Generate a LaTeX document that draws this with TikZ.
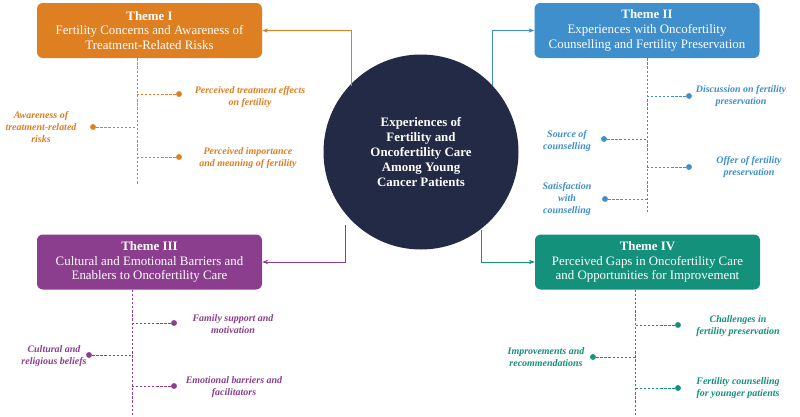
\documentclass[tikz,border=0pt]{standalone}
\usepackage{fontspec}
\setmainfont{Liberation Serif}
\usetikzlibrary{arrows.meta}
\definecolor{cI}{HTML}{DE7F22}
\definecolor{cII}{HTML}{3F8FCC}
\definecolor{cIII}{HTML}{8B3E8D}
\definecolor{cIV}{HTML}{13917A}
\definecolor{navy}{HTML}{222A45}
\begin{document}
\begin{tikzpicture}[x=0.03cm,y=-0.03cm,
  theme/.style={rounded corners=5pt,fill=#1,text=white,align=center,font=\fontsize{11}{12.5}\selectfont,minimum width=225*0.03cm,minimum height=55*0.03cm,inner sep=1pt},
  conn/.style={draw=#1,line width=0.7pt,-{Stealth[length=5pt]}},
  trunk/.style={draw=#1,dashed,dash pattern=on 2pt off 1.5pt,line width=0.6pt},
  dot/.style={circle,fill=#1,inner sep=0pt,minimum size=5pt},
  lab/.style={text=#1,align=center,font=\fontsize{8.5}{10.5}\selectfont\bfseries\itshape}]
\useasboundingbox (0,0) rectangle (800,417);
\fill[white] (0,0) rectangle (800,417);
% center
\node[circle,fill=navy,minimum size=195*0.03cm,text=white,align=center,font=\fontsize{11}{13}\selectfont\bfseries] (c) at (421,152) {Experiences of\\Fertility and\\Oncofertility Care\\Among Young\\Cancer Patients};
% themes
\node[theme=cI] (t1) at (149.5,30.5) {\textbf{Theme I}\\Fertility Concerns and Awareness of\\Treatment-Related Risks};
\node[theme=cII] (t2) at (647,30.5) {\textbf{Theme II}\\Experiences with Oncofertility\\Counselling and Fertility Preservation};
\node[theme=cIII] (t3) at (149.5,262) {\textbf{Theme III}\\Cultural and Emotional Barriers and\\Enablers to Oncofertility Care};
\node[theme=cIV] (t4) at (647.5,262) {\textbf{Theme IV}\\Perceived Gaps in Oncofertility Care\\and Opportunities for Improvement};
% connectors
\coordinate (a1) at (351,86); \coordinate (a2) at (492,86);
\coordinate (a3) at (345,225); \coordinate (a4) at (481,230);
\draw[conn=cI] (a1) |- (t1.east);
\draw[conn=cII] (a2) |- (t2.west);
\draw[conn=cIII] (a3) |- (t3.east);
\draw[conn=cIV] (a4) |- (t4.west);
% Theme I subtopics
\coordinate (e1) at (137,185);
\draw[trunk=cI] (t1.south -| e1) -- (e1);
\node[dot=cI] (d11) at (179,94) {}; \node[dot=cI] (d12) at (93,127) {}; \node[dot=cI] (d13) at (179,157) {};
\draw[trunk=cI] (d11) -- (d11 -| e1); \draw[trunk=cI] (d12) -- (d12 -| e1); \draw[trunk=cI] (d13) -- (d13 -| e1);
\node[lab=cI] (l11) at (250,97) {Perceived treatment effects\\on fertility};
\node[lab=cI] (l12) at (41,127) {Awareness of\\treatment-related\\risks};
\node[lab=cI] (l13) at (248,158) {Perceived importance\\and meaning of fertility};
% Theme II
\coordinate (e2) at (647,212);
\draw[trunk=cII] (t2.south -| e2) -- (e2);
\node[dot=cII] (d21) at (689,96) {}; \node[dot=cII] (d22) at (604,139) {}; \node[dot=cII] (d23) at (689,167) {}; \node[dot=cII] (d24) at (605,199) {};
\foreach \d in {d21,d22,d23,d24} \draw[trunk=cII] (\d) -- (\d -| e2);
\node[lab=cII] (l21) at (741,96) {Discussion on fertility\\preservation};
\node[lab=cII] (l22) at (567,141) {Source of\\counselling};
\node[lab=cII] (l23) at (749,167) {Offer of fertility\\preservation};
\node[lab=cII] (l24) at (567,199) {Satisfaction\\with\\counselling};
% Theme III
\coordinate (e3) at (132,417);
\draw[trunk=cIII] (t3.south -| e3) -- (e3);
\node[dot=cIII] (d31) at (174,323) {}; \node[dot=cIII] (d32) at (89,355) {}; \node[dot=cIII] (d33) at (174,386) {};
\foreach \d in {d31,d32,d33} \draw[trunk=cIII] (\d) -- (\d -| e3);
\node[lab=cIII] (l31) at (233,324) {Family support and\\motivation};
\node[lab=cIII] (l32) at (54,356) {Cultural and\\religious beliefs};
\node[lab=cIII] (l33) at (234,387) {Emotional barriers and\\facilitators};
% Theme IV
\coordinate (e4) at (635,417);
\draw[trunk=cIV] (t4.south -| e4) -- (e4);
\node[dot=cIV] (d41) at (678,325) {}; \node[dot=cIV] (d42) at (593,357) {}; \node[dot=cIV] (d43) at (678,388) {};
\foreach \d in {d41,d42,d43} \draw[trunk=cIV] (\d) -- (\d -| e4);
\node[lab=cIV] (l41) at (738,326) {Challenges in\\fertility preservation};
\node[lab=cIV] (l42) at (546,357) {Improvements and\\recommendations};
\node[lab=cIV] (l43) at (738,388) {Fertility counselling\\for younger patients};
\end{tikzpicture}
\end{document}
